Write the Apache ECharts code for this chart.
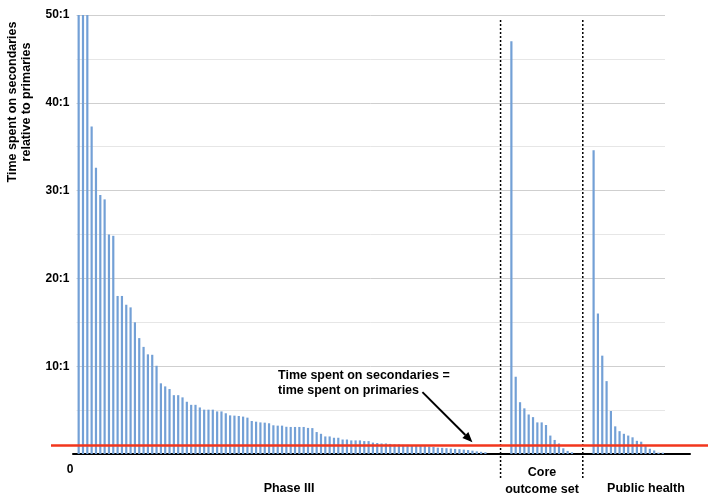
<!DOCTYPE html>
<html><head><meta charset="utf-8">
<script src="https://cdn.jsdelivr.net/npm/echarts@6.0.0/dist/echarts.min.js"></script>
<style>html,body{margin:0;padding:0;background:#fff}#c{width:708px;height:500px}</style>
</head><body><div id="c"></div>
<script>
// ---- data ----
const phase3 = [58,55,52,37.3,32.6,29.5,29.0,25.0,24.85,18.0,18.0,17.0,16.7,15.0,13.2,12.2,11.35,11.3,10.05,
  8.05,7.7,7.4,6.7,6.7,6.45,5.95,5.6,5.6,5.3,5.05,5.05,5.05,4.85,4.85,4.64,4.4,4.37,4.33,4.26,
  4.14,3.76,3.68,3.6,3.57,3.5,3.27,3.23,3.23,3.1,3.08,3.08,3.08,3.08,2.97,2.95,2.5,2.3,
  2.0,2.0,1.85,1.85,1.65,1.65,1.55,1.55,1.55,1.47,1.47,
  1.3,1.25,1.2,1.2,1.15,1.1,1.1,1.05,1.05,1.0,1.0,0.95,
  0.9,0.85,0.8,0.72,0.7,0.66,0.62,0.58,0.55,0.5,0.45,0.38,0.3,0.25,0.2];
const coreOutcome = [47.0,8.8,5.9,5.2,4.5,4.2,3.6,3.6,3.3,2.1,1.6,1.2,0.65,0.35,0.2];
const publicHealth = [34.6,16.0,11.2,8.3,4.9,3.15,2.6,2.3,2.1,1.9,1.5,1.4,0.95,0.6,0.4,0.15,0.15];
const gapAfterPhase3 = 5;
const gapAfterCore = 4;
const yTickValues = [0,10,20,30,40,50];
const groupLabels = ['Phase III','Core\noutcome set','Public health'];
const parityValue = 1;
const yTitle = 'Time spent on secondaries\nrelative to primaries';
const annotationText = 'Time spent on secondaries =\ntime spent on primaries';

// ---- build ----
const values = [], cats = [];
phase3.forEach((v,i)=>{values.push(v); cats.push('P'+(i+1));});
for (let i=0;i<gapAfterPhase3;i++){values.push('-'); cats.push('gapA'+i);}
coreOutcome.forEach((v,i)=>{values.push(v); cats.push('C'+(i+1));});
for (let i=0;i<gapAfterCore;i++){values.push('-'); cats.push('gapB'+i);}
publicHealth.forEach((v,i)=>{values.push(v); cats.push('H'+(i+1));});

const FONT = 'Liberation Sans, Arial, Helvetica, sans-serif';
const TOP = 15, BOTTOM = 46;
const chart = echarts.init(document.getElementById('c'), null, {renderer:'canvas'});

chart.setOption({
  animation: false,
  backgroundColor: '#fff',
  grid: [
    {left: 76.5, right: 43, top: TOP, bottom: BOTTOM},
    {left: 73, right: 18, top: TOP, bottom: BOTTOM},
    {left: 51, right: 0, top: TOP, bottom: BOTTOM}
  ],
  xAxis: [
    {type:'category', gridIndex:0, data: cats, boundaryGap: true,
     axisLine:{show:false}, axisTick:{show:false}, axisLabel:{show:false}, splitLine:{show:false}},
    {type:'value', gridIndex:1, min:0, max:1, axisLine:{show:true, lineStyle:{color:'#000', width:2}},
     axisTick:{show:false}, axisLabel:{show:false}, splitLine:{show:false}},
    {type:'value', gridIndex:2, min:0, max:1, show:false}
  ],
  yAxis: [
    {type:'value', gridIndex:0, min: yTickValues[0], max: yTickValues[yTickValues.length-1], interval:10,
     axisLine:{show:false}, axisTick:{show:false},
     axisLabel:{formatter: v => v === 0 ? '' : v + ':1', color:'#000', fontWeight:'bold', fontSize:12, fontFamily:FONT, margin:7},
     splitLine:{show:true, lineStyle:{color:'#cfcfcf', width:1}},
     minorTick:{show:false, splitNumber:2},
     minorSplitLine:{show:true, lineStyle:{color:'#e6e6e6', width:1}}},
    {type:'value', gridIndex:1, min:0, max:50, show:false},
    {type:'value', gridIndex:2, min:0, max:50, show:false}
  ],
  series: [
    {type:'bar', xAxisIndex:0, yAxisIndex:0, data: values, barWidth: 2.2,
     itemStyle:{color:'#73a0d6'}, clip:true, silent:true},
    {type:'line', xAxisIndex:2, yAxisIndex:2, data: [[0,-10]], showSymbol:false, symbol:'none', silent:true,
     lineStyle:{opacity:0},
     markLine:{silent:true, symbol:'none', label:{show:false},
       lineStyle:{color:'#f2361d', width:2.5, type:'solid'},
       data:[{yAxis: parityValue}]}}
  ]
});

// ---- annotations positioned from the scales ----
const px = (idx, val) => chart.convertToPixel({gridIndex:0}, [cats[idx], val]);
const boundary = (i) => (px(i,0)[0] + px(i+1,0)[0]) / 2;
const div1 = boundary(phase3.length + gapAfterPhase3 - 3);
const div2 = boundary(phase3.length + gapAfterPhase3 + coreOutcome.length + gapAfterCore - 3);
const base = px(0,0)[1];
const top50 = px(0,50)[1];
const tip = px(91, 1.35);
const sx = tip[0] - 50, sy = tip[1] - 50;
const ang = Math.atan2(tip[1]-sy, tip[0]-sx);
const hl = 10, hw = 4.2;
const bx = tip[0] - hl*Math.cos(ang), by = tip[1] - hl*Math.sin(ang);
const head = [[tip[0],tip[1]],[bx - hw*Math.sin(ang), by + hw*Math.cos(ang)],[bx + hw*Math.sin(ang), by - hw*Math.cos(ang)]];

const txt = (x,y,text,extra) => Object.assign({type:'text', x, y, silent:true,
  style:{text, fill:'#000', font:'bold 12.5px ' + FONT, textAlign:'center', textVerticalAlign:'middle', lineHeight:16}}, extra||{});

chart.setOption({
  graphic: [
    {type:'line', silent:true, shape:{x1:div1, y1:top50+5, x2:div1, y2:478}, style:{stroke:'#000', lineWidth:1.5, lineDash:[2,2]}},
    {type:'line', silent:true, shape:{x1:div2, y1:top50+5, x2:div2, y2:478}, style:{stroke:'#000', lineWidth:1.5, lineDash:[2,2]}},
    {type:'line', silent:true, shape:{x1:sx, y1:sy, x2:bx, y2:by}, style:{stroke:'#000', lineWidth:2}},
    {type:'polygon', silent:true, shape:{points:head}, style:{fill:'#000'}},
    {type:'text', x:278, y:383, silent:true,
      style:{text:annotationText, fill:'#000', font:'bold 12.5px ' + FONT, textAlign:'left', textVerticalAlign:'middle', lineHeight:15}},
    txt(70, base + 16, String(yTickValues[0]), {style:{text:String(yTickValues[0]), fill:'#000', font:'bold 12px ' + FONT, textAlign:'center', textVerticalAlign:'middle'}}),
    txt(289, 489, groupLabels[0]),
    txt(542, 481.5, groupLabels[1], {style:{text:groupLabels[1], fill:'#000', font:'bold 12.5px ' + FONT, textAlign:'center', textVerticalAlign:'middle', lineHeight:17}}),
    txt(646, 489, groupLabels[2]),
    {type:'text', x:20, y:102, rotation:Math.PI/2, silent:true,
      style:{text:yTitle, fill:'#000', font:'bold 12.5px ' + FONT, textAlign:'center', textVerticalAlign:'middle', lineHeight:14}}
  ]
});
</script></body></html>
